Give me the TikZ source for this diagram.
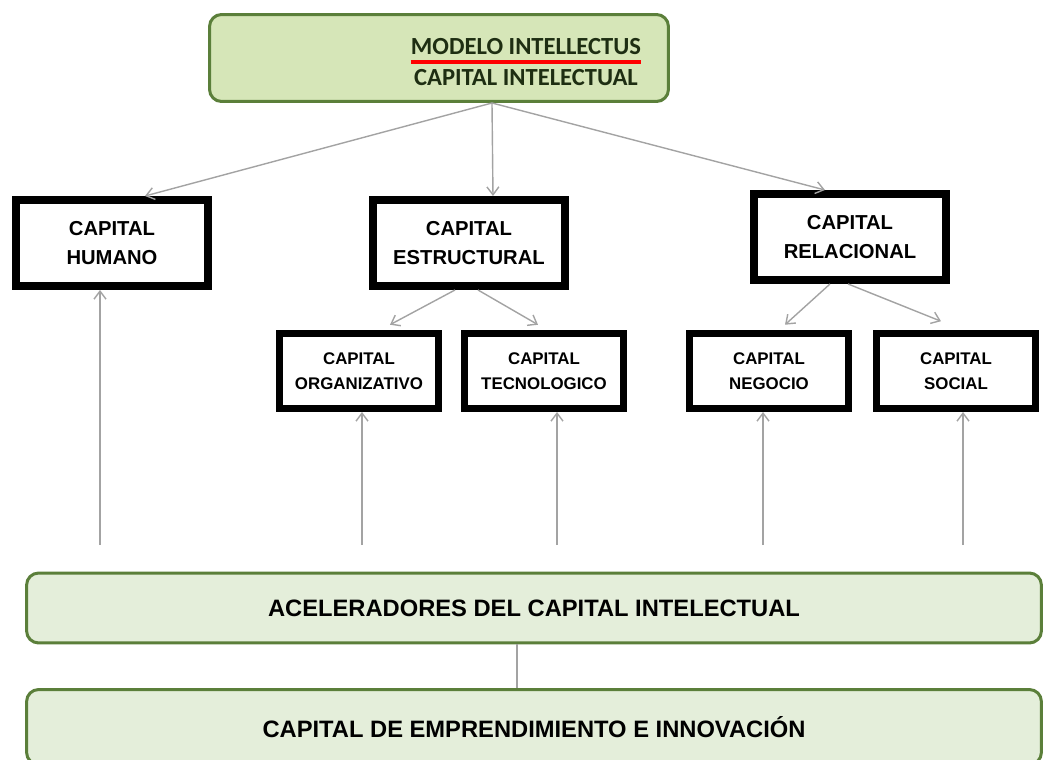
\documentclass[tikz,border=0pt]{standalone}
\usepackage{fontspec}
\setmainfont{Liberation Sans}
\newfontfamily\calibri{Carlito}
\usepackage{tikz}
\usetikzlibrary{positioning, arrows.meta}
\definecolor{verdeclaro}{HTML}{D6E6B8}
\definecolor{verdepalido}{HTML}{E4EEDA}
\definecolor{verdeborde}{HTML}{5B7F3A}
\definecolor{grisflecha}{HTML}{A3A3A3}
\definecolor{textoverde}{HTML}{1E2E12}
\tikzset{
    capital/.style    = {draw, line width=0.16cm, align=center, inner sep=0pt,
                         minimum width=3.84cm, minimum height=1.72cm,
                         font=\fontsize{11.5}{17}\selectfont\bfseries},
    subcapital/.style = {capital, line width=0.14cm, minimum width=3.18cm,
                         minimum height=1.5cm, font=\fontsize{9.6}{14.5}\selectfont\bfseries},
    franja/.style     = {draw=verdeborde, line width=0.06cm, rounded corners=0.24cm,
                         fill=verdepalido, minimum width=20.3cm, minimum height=1.4cm,
                         font=\fontsize{13.5}{15}\selectfont\bfseries},
    titulo/.style     = {font=\calibri\fontsize{14}{16}\selectfont\bfseries,
                         text=textoverde, inner sep=0pt},
    flecha/.style     = {-{Straight Barb[length=1.6mm, width=2.4mm]}, draw=grisflecha,
                         line width=0.8pt},
    linea/.style      = {draw=grisflecha, line width=0.8pt}
}

\begin{document}
\begin{tikzpicture}[x=0.02cm, y=-0.02cm]
    \clip (0,0) rectangle (1045,760);

    % modelo
    \node[franja, fill=verdeclaro, minimum width=9.18cm, minimum height=1.74cm] (modelo) at (439,58) {};
    \node[titulo] (modelotxt) at (526,47) {MODELO INTELLECTUS};
    \node[titulo] (capitaltxt) at (526,78) {CAPITAL INTELECTUAL};
    \draw[red, line width=2.4pt] ([yshift=-3.8pt]modelotxt.south west) -- ([yshift=-3.8pt]modelotxt.south east);

    % capitales
    \node[capital] (humano) at (112,243) {CAPITAL\\HUMANO};
    \node[capital] (estructural) at (469,243) {CAPITAL\\ESTRUCTURAL};
    \node[capital] (relacional) at (850,237) {CAPITAL\\RELACIONAL};

    \node[subcapital] (organizativo) at (359,371) {CAPITAL\\ORGANIZATIVO};
    \node[subcapital] (tecnologico) at (544,371) {CAPITAL\\TECNOLOGICO};
    \node[subcapital] (negocio) at (769,371) {CAPITAL\\NEGOCIO};
    \node[subcapital] (social) at (956,371) {CAPITAL\\SOCIAL};

    % aceleradores
    \node[franja] (aceleradores) at (534,608) {ACELERADORES DEL CAPITAL INTELECTUAL};
    \node[franja, minimum height=1.5cm] (emprendimiento) at (534,727) {CAPITAL DE EMPRENDIMIENTO E INNOVACIÓN};

    \draw[flecha] ([xshift=1.06cm]modelo.south) -- ([xshift=0.66cm]humano.north);
    \draw[flecha] ([xshift=1.06cm]modelo.south) -- ([xshift=0.48cm]estructural.north);
    \draw[flecha] ([xshift=1.06cm]modelo.south) -- ([xshift=-0.5cm]relacional.north);

    \draw[flecha] ([xshift=-0.28cm]estructural.south) -- ([xshift=0.62cm, yshift=3pt]organizativo.north);
    \draw[flecha] ([xshift=0.18cm]estructural.south) -- ([xshift=-0.12cm, yshift=3pt]tecnologico.north);
    \draw[flecha] ([xshift=-0.4cm]relacional.south) -- ([xshift=0.32cm, yshift=3pt]negocio.north);
    \draw[flecha] ([xshift=-0.04cm]relacional.south) -- ([xshift=-0.3cm, yshift=5pt]social.north);

    \coordinate (pie1) at (100,545);
    \coordinate (pie2) at (362,545);
    \coordinate (pie3) at (557,545);
    \coordinate (pie4) at (763,545);
    \coordinate (pie5) at (963,545);
    \draw[flecha] (pie1) -- (pie1 |- humano.south);
    \draw[flecha] (pie2) -- (pie2 |- organizativo.south);
    \draw[flecha] (pie3) -- (pie3 |- tecnologico.south);
    \draw[flecha] (pie4) -- (pie4 |- negocio.south);
    \draw[flecha] (pie5) -- (pie5 |- social.south);

    \draw[linea] ([xshift=-0.34cm]aceleradores.south) -- ([xshift=-0.34cm]emprendimiento.north);
\end{tikzpicture}
\end{document}
